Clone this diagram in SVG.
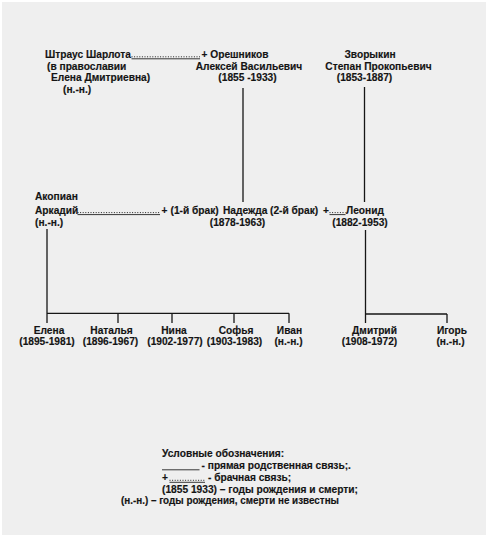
<svg xmlns="http://www.w3.org/2000/svg" width="488" height="538" viewBox="0 0 488 538">
<defs>
<style>
text{font-family:"Liberation Sans",Arial,sans-serif;font-size:10.2px;font-weight:bold;fill:#141414;stroke:#141414;stroke-width:0.15}
.c{text-anchor:middle}
.e{text-anchor:end}
.ln{stroke:#161616;stroke-width:1.3;fill:none}
.ul{stroke:#222;stroke-width:0.9;fill:none}
.dt{stroke:#222;stroke-width:1;stroke-dasharray:1 1.6;fill:none}
</style>
</defs>
<rect x="0" y="0" width="488" height="538" fill="#ffffff"/>
<rect x="2" y="2" width="484" height="533" fill="#efefef"/>

<g id="connectors">
<line class="ln" x1="243" y1="88" x2="243" y2="202"/>
<line class="ln" x1="364.5" y1="87" x2="364.5" y2="202"/>
<line class="ln" x1="47" y1="229" x2="47" y2="323"/>
<line class="ln" x1="47" y1="313.3" x2="289" y2="313.3"/>
<line class="ln" x1="118" y1="313.3" x2="118" y2="323"/>
<line class="ln" x1="172" y1="313.3" x2="172" y2="323"/>
<line class="ln" x1="234" y1="313.3" x2="234" y2="323"/>
<line class="ln" x1="289" y1="313.3" x2="289" y2="323"/>
<line class="ln" x1="365.5" y1="230" x2="365.5" y2="323"/>
<line class="ln" x1="365.5" y1="314" x2="447" y2="314"/>
<line class="ln" x1="447" y1="314" x2="447" y2="323"/>
<!-- marriage links -->
<line class="dt" x1="131.5" y1="56.8" x2="200" y2="56.8"/>
<line class="ul" x1="131.5" y1="58.8" x2="200" y2="58.8"/>
<line class="dt" x1="77.5" y1="212.6" x2="160" y2="212.6"/>
<line class="ul" x1="77.5" y1="214.6" x2="160" y2="214.6"/>
<line class="dt" x1="329.5" y1="212.6" x2="345.5" y2="212.6"/>
<line class="ul" x1="329.5" y1="214.6" x2="345.5" y2="214.6"/>
</g>

<g id="shtraus">
<text x="45" y="58">Штраус Шарлота</text>
<text x="47" y="69.5">(в православии</text>
<text x="51" y="81">Елена Дмитриевна)</text>
<text x="63" y="93">(н.-н.)</text>
</g>
<g id="oreshnikov">
<text x="201.5" y="58">+ Орешников</text>
<text class="c" x="249" y="69.5">Алексей Васильевич</text>
<text class="c" x="247.5" y="81">(1855 -1933)</text>
</g>
<g id="zvorykin">
<text class="c" x="370" y="58">Зворыкин</text>
<text class="c" x="378.5" y="69.5">Степан Прокопьевич</text>
<text class="c" x="364.5" y="80.5">(1853-1887)</text>
</g>
<g id="akopian">
<text x="35" y="200">Акопиан</text>
<text x="35" y="214">Аркадий</text>
<text x="35" y="225.5">(н.-н.)</text>
</g>
<g id="nadezhda">
<text x="161.5" y="214">+</text>
<text x="170.5" y="214">(1-й брак)</text>
<text x="223" y="214">Надежда</text>
<text x="270" y="214">(2-й брак)</text>
<text x="323" y="214">+</text>
<text class="c" x="237.5" y="225.5">(1878-1963)</text>
</g>
<g id="leonid">
<text x="346" y="214">Леонид</text>
<text class="c" x="360" y="226">(1882-1953)</text>
</g>
<g id="elena"><text class="c" x="49" y="334">Елена</text><text class="c" x="47" y="345">(1895-1981)</text></g>
<g id="natalya"><text class="c" x="111.5" y="334">Наталья</text><text class="c" x="110.5" y="345">(1896-1967)</text></g>
<g id="nina"><text class="c" x="174" y="334">Нина</text><text class="c" x="175" y="345">(1902-1977)</text></g>
<g id="sofya"><text class="c" x="236" y="334">Софья</text><text class="c" x="234.5" y="345">(1903-1983)</text></g>
<g id="ivan"><text class="c" x="289.5" y="334">Иван</text><text class="c" x="288.5" y="345">(н.-н.)</text></g>
<g id="dmitry"><text class="c" x="374.5" y="334">Дмитрий</text><text class="c" x="369.5" y="345">(1908-1972)</text></g>
<g id="igor"><text class="c" x="452" y="334">Игорь</text><text class="c" x="450.5" y="345">(н.-н.)</text></g>

<g id="legend">
<text x="162" y="457">Условные обозначения:</text>
<line class="ul" x1="162" y1="469.8" x2="199.5" y2="469.8"/>
<text x="201.5" y="468.5">- прямая родственная связь;.</text>
<text x="162" y="480.5">+</text>
<line class="dt" x1="169.5" y1="480.3" x2="205" y2="480.3"/>
<line class="ul" x1="169.5" y1="482.3" x2="205" y2="482.3"/>
<text x="208" y="480.5">- брачная связь;</text>
<text x="162" y="492.5">(1855 1933) – годы рождения и смерти;</text>
<text x="121" y="503.5" textLength="218" lengthAdjust="spacingAndGlyphs">(н.-н.) – годы рождения, смерти не известны</text>
</g>
</svg>
